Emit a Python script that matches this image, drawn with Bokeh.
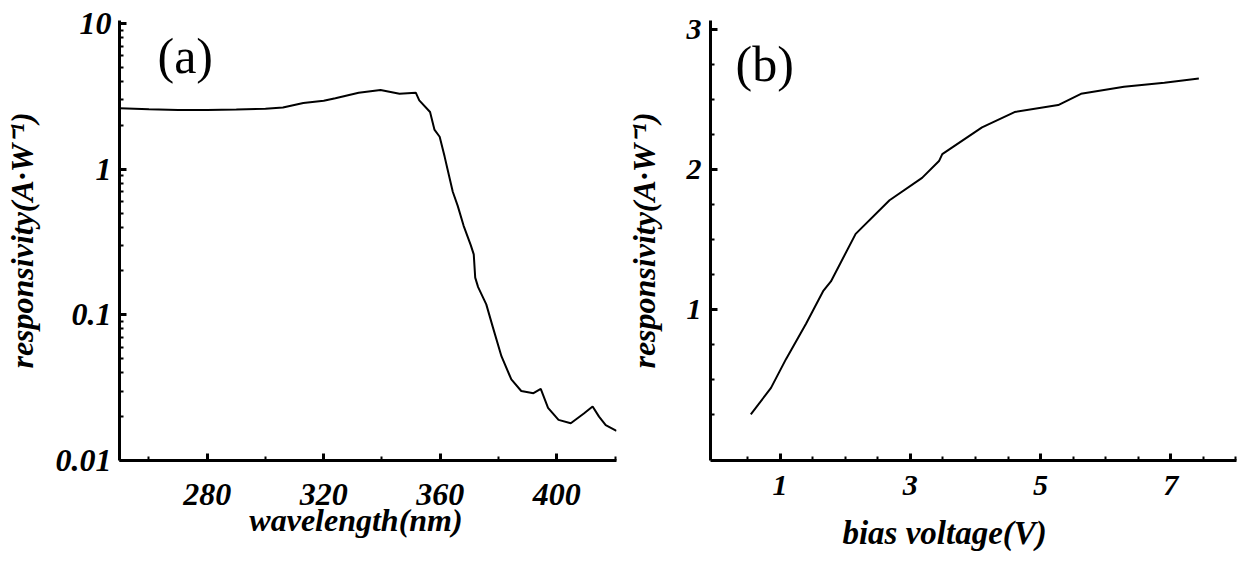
from bokeh.plotting import figure
from bokeh.layouts import row
from bokeh.models import Range1d, FixedTicker, CustomJSTickFormatter, Label
from bokeh.embed import file_html
from bokeh.resources import INLINE

# ---- panel (a): spectral responsivity ----
wavelength_nm = [250, 260, 270, 280, 290, 300, 306, 313, 320, 324, 332, 339.5, 346, 351.6,
                 352.8, 356.5, 358, 359.8, 361.5, 362.5, 364.3, 366, 368, 370.5, 371.5, 372,
                 373, 375.8, 378, 381, 384.4, 387.8, 392, 394.5, 397, 400.6, 404.8, 409.3,
                 412.3, 414.5, 416.8, 420.5]
responsivity_a = [2.62, 2.58, 2.55, 2.55, 2.57, 2.6, 2.65, 2.85, 2.95, 3.07, 3.35, 3.5, 3.3, 3.35,
                  2.97, 2.47, 1.87, 1.67, 1.22, 1.0, 0.70, 0.56, 0.41, 0.30, 0.26, 0.18,
                  0.155, 0.118, 0.083, 0.052, 0.036, 0.030, 0.029, 0.031, 0.023, 0.019, 0.018, 0.021,
                  0.0235, 0.020, 0.0175, 0.016]

# ---- panel (b): responsivity vs bias ----
bias_v = [0.55, 0.86, 1.09, 1.40, 1.66, 1.78, 2.16, 2.68, 3.18, 3.44, 3.49, 4.1, 4.6, 5.27,
          5.62, 6.28, 6.9, 7.43]
responsivity_b = [0.25, 0.44, 0.645, 0.9, 1.13, 1.2, 1.54, 1.78, 1.94, 2.06, 2.11, 2.30, 2.41, 2.46,
                  2.54, 2.59, 2.62, 2.65]

# ---- ticks ----
wl_major_ticks = [280, 320, 360, 400]
wl_minor_ticks = [260, 300, 340, 380, 420]
resp_a_ticks = [0.01, 0.1, 1, 10]
resp_a_minor_ticks = [m * d for d in [0.01, 0.1, 1] for m in range(2, 10)]
bias_major_ticks = [1, 3, 5, 7]
bias_minor_ticks = [0.5, 1.5, 2, 2.5, 3.5, 4, 4.5, 5.5, 6, 6.5, 7.5, 8]
resp_b_ticks = [1, 2, 3]
resp_b_minor_ticks = [0.25, 0.5, 0.75, 1.25, 1.5, 1.75, 2.25, 2.5, 2.75]

FONT = "Liberation Serif"
NBSP = "\u00a0"


def style_axis(ax, tick_size, label_size, label_standoff, axis_label_standoff):
    ax.axis_line_width = 3
    ax.axis_line_color = "black"
    ax.major_tick_in = 7
    ax.major_tick_out = 0
    ax.major_tick_line_width = 3
    ax.minor_tick_in = 4
    ax.minor_tick_out = 0
    ax.minor_tick_line_width = 2
    ax.major_label_text_font = FONT
    ax.major_label_text_font_style = "bold italic"
    ax.major_label_text_font_size = tick_size
    ax.major_label_text_color = "black"
    ax.major_label_standoff = label_standoff
    ax.axis_label_text_font = FONT
    ax.axis_label_text_font_style = "bold italic"
    ax.axis_label_text_font_size = label_size
    ax.axis_label_text_color = "black"
    ax.axis_label_standoff = axis_label_standoff


# Panel (a)
p1 = figure(width=622, height=563, y_axis_type="log",
            x_range=Range1d(249.9, 420.5), y_range=Range1d(0.01, 10.49),
            output_backend="svg", toolbar_location=None,
            min_border_left=117, min_border_right=6, min_border_top=20, min_border_bottom=103)
p1.line(wavelength_nm, responsivity_a, line_color="black", line_width=2)
p1.xaxis.ticker = FixedTicker(ticks=wl_major_ticks, minor_ticks=wl_minor_ticks)
p1.yaxis.ticker = FixedTicker(ticks=resp_a_ticks, minor_ticks=resp_a_minor_ticks)
p1.yaxis.formatter = CustomJSTickFormatter(code="return String(parseFloat(tick.toPrecision(3)));")
p1.xaxis.axis_label = "wavelength(nm)" + NBSP * 3
p1.yaxis.axis_label = "responsivity(A·W⁻¹)"
style_axis(p1.xaxis[0], "32px", "32px", 23, -6)
style_axis(p1.yaxis[0], "32px", "32px", 8, 13)
p1.xgrid.visible = False
p1.ygrid.visible = False
p1.outline_line_color = None
p1.add_layout(Label(x=38, y=405, x_units="screen", y_units="screen", text="(a)",
                    text_baseline="alphabetic",
                    text_font=FONT, text_font_size="50px", text_color="black"))

# Panel (b)
p2 = figure(width=625, height=563,
            x_range=Range1d(-0.069, 8.008), y_range=Range1d(-0.079, 3.064),
            output_backend="svg", toolbar_location=None,
            min_border_left=85, min_border_right=11, min_border_top=20, min_border_bottom=103)
p2.line(bias_v, responsivity_b, line_color="black", line_width=2)
p2.xaxis.ticker = FixedTicker(ticks=bias_major_ticks, minor_ticks=bias_minor_ticks)
p2.yaxis.ticker = FixedTicker(ticks=resp_b_ticks, minor_ticks=resp_b_minor_ticks)
p2.xaxis.axis_label = "bias voltage(V)" + NBSP * 7
p2.yaxis.axis_label = "responsivity(A·W⁻¹)"
style_axis(p2.xaxis[0], "30px", "33px", 15, 17)
style_axis(p2.yaxis[0], "30px", "32px", 9, 22)
p2.xgrid.visible = False
p2.ygrid.visible = False
p2.outline_line_color = None
p2.add_layout(Label(x=25, y=397, x_units="screen", y_units="screen", text="(b)",
                    text_baseline="alphabetic",
                    text_font=FONT, text_font_size="50px", text_color="black"))

layout = row(p1, p2)
open("out.html", "w").write(file_html(layout, INLINE))
